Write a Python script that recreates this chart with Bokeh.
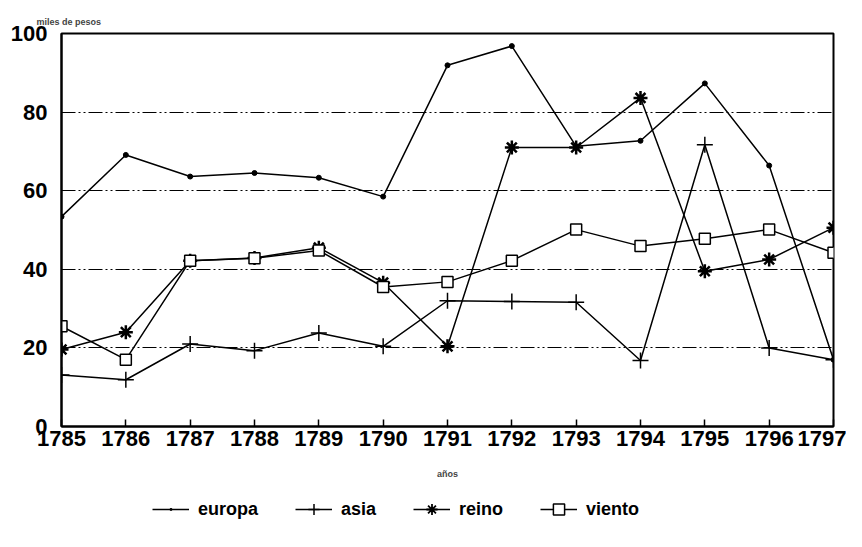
from bokeh.plotting import figure
from bokeh.models import Legend, LegendItem, FixedTicker, Range1d
from bokeh.layouts import column
from bokeh.embed import file_html
from bokeh.resources import INLINE

years = [1785, 1786, 1787, 1788, 1789, 1790, 1791, 1792, 1793, 1794, 1795, 1796, 1797]
europa = [53.4, 69.1, 63.6, 64.5, 63.3, 58.5, 91.9, 96.8, 71.3, 72.7, 87.3, 66.4, 17.0]
asia = [13.1, 11.9, 21.0, 19.3, 23.8, 20.4, 32.0, 31.8, 31.6, 16.8, 71.7, 20.0, 17.0]
reino = [19.6, 24.0, 42.2, 42.9, 45.5, 36.6, 20.4, 71.0, 71.0, 83.6, 39.5, 42.5, 50.6]
viento = [25.5, 17.0, 42.2, 42.8, 44.8, 35.5, 36.8, 42.2, 50.1, 45.9, 47.8, 50.1, 44.2]
series_names = ["europa", "asia", "reino", "viento"]
y_ticks = [0, 20, 40, 60, 80, 100]

FONT = "Liberation Sans"

p = figure(width=846, height=486, output_backend="svg", toolbar_location=None,
           x_range=Range1d(1785, 1797), y_range=Range1d(0, 100),
           min_border_left=61, min_border_right=13, min_border_top=33,
           min_border_bottom=60)

p.title.text = "miles de pesos"
p.title.text_font = FONT
p.title.text_font_size = "9px"
p.title.text_font_style = "bold"
p.title.align = "left"
p.title.offset = -25
p.title.standoff = 14

p.outline_line_color = "black"
p.outline_line_width = 2
p.background_fill_color = "white"
p.border_fill_color = "white"

p.xgrid.grid_line_color = None
p.ygrid.grid_line_color = "black"
p.ygrid.grid_line_width = 1
p.ygrid.grid_line_dash = "14 3 2 3 2 3"
p.ygrid.ticker = FixedTicker(ticks=[20, 40, 60, 80])

p.xaxis.ticker = FixedTicker(ticks=years)
p.yaxis.ticker = FixedTicker(ticks=y_ticks)
for ax in (p.xaxis[0], p.yaxis[0]):
    ax.major_label_text_font = FONT
    ax.major_label_text_font_size = "22px"
    ax.major_label_text_font_style = "bold"
    ax.major_label_text_color = "black"
    ax.axis_line_color = "black"
    ax.axis_line_width = 2
    ax.minor_tick_line_color = None
p.xaxis.major_tick_in = 7
p.xaxis.major_tick_out = 0
p.xaxis.major_tick_line_width = 1.5
p.xaxis.major_label_standoff = 4
p.yaxis.major_tick_line_color = None
p.yaxis.major_label_standoff = 8
p.xaxis.axis_label = "años"
p.xaxis.axis_label_text_font = FONT
p.xaxis.axis_label_text_font_size = "9px"
p.xaxis.axis_label_text_font_style = "bold"
p.xaxis.axis_label_standoff = 20

styles = [
    dict(marker="circle", size=5, fill_color="black", line_color="black", line_width=1),
    dict(marker="cross", size=16, fill_color=None, line_color="black", line_width=1.5),
    dict(marker="asterisk", size=14, fill_color=None, line_color="black", line_width=2.5),
    dict(marker="square", size=11, fill_color="white", line_color="black", line_width=1.5),
]
legend_styles = [
    dict(marker="dot", size=14, fill_color="black", line_color="black", line_width=2),
    dict(marker="cross", size=16, fill_color=None, line_color="black", line_width=1.5),
    dict(marker="asterisk", size=16, fill_color=None, line_color="black", line_width=1.8),
    dict(marker="square", size=11, fill_color="white", line_color="black", line_width=1.5),
]
data = [europa, asia, reino, viento]
for vals, st in zip(data, styles):
    p.line(years, vals, line_color="black", line_width=1.5)
    p.scatter(years, vals, **st)

# legend strip below the chart (its renderers reuse the data, outside the strip's view)
lf = figure(width=846, height=45, output_backend="svg", toolbar_location=None,
            x_range=Range1d(0, 1), y_range=Range1d(0, 1),
            x_axis_type=None, y_axis_type=None,
            min_border=0, min_border_left=0, min_border_right=0,
            min_border_top=0, min_border_bottom=0)
lf.outline_line_color = None
lf.xgrid.grid_line_color = None
lf.ygrid.grid_line_color = None
items = []
for name, vals, st in zip(series_names, data, legend_styles):
    lr = lf.line(years, vals, line_color="black", line_width=1.5)
    sr = lf.scatter(years, vals, **st)
    items.append(LegendItem(label=name, renderers=[lr, sr]))
legend = Legend(items=items, orientation="horizontal", location=(91, 8),
                label_text_font=FONT, label_text_font_size="18px", label_text_font_style="bold",
                label_text_color="black",
                glyph_width=37, glyph_height=28, spacing=37, label_standoff=9,
                border_line_color=None, background_fill_alpha=0, margin=0, padding=2)
lf.add_layout(legend, "center")

open("out.html", "w").write(file_html(column(p, lf, spacing=0), INLINE))
